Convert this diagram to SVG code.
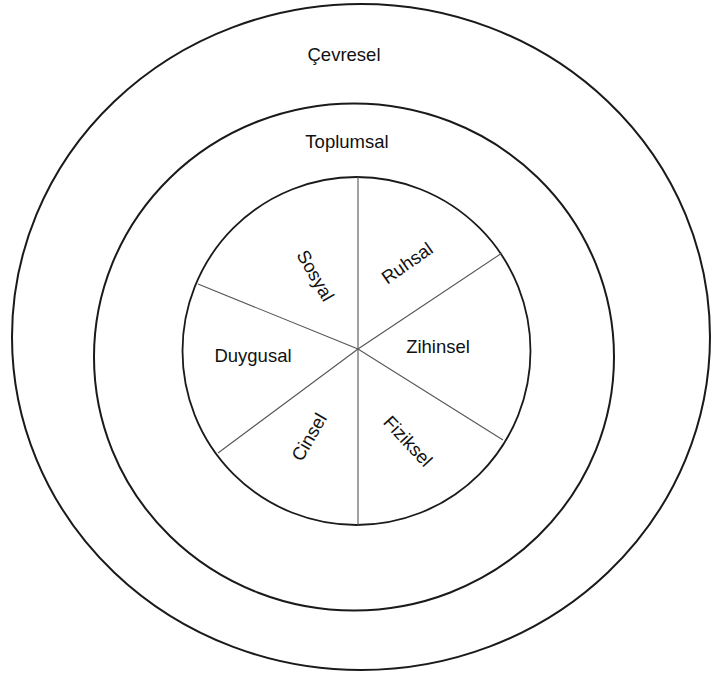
<svg xmlns="http://www.w3.org/2000/svg" width="711" height="673" viewBox="0 0 711 673">
<style>
.ring{fill:none;stroke:#1a1a1a;stroke-width:2}
.inner{fill:none;stroke:#1a1a1a;stroke-width:1.8}
.spoke{stroke:#555;stroke-width:1.1;fill:none}
.lbl{font-family:"Liberation Sans",Arial,sans-serif;font-size:18.5px;fill:#111;text-anchor:middle}
.rl{dominant-baseline:central}
</style>
<rect width="711" height="673" fill="#fff"/>
<g id="cevresel">
<ellipse class="ring" cx="361" cy="337" rx="349" ry="333"/>
<text class="lbl" x="344" y="61">Çevresel</text>
</g>
<g id="toplumsal">
<ellipse class="ring" cx="354" cy="357" rx="260" ry="253.5"/>
<text class="lbl" x="347" y="148">Toplumsal</text>
</g>
<g id="birey">
<circle class="inner" cx="356.5" cy="351" r="174"/>
</g>
<g id="connectors">
<line class="spoke" x1="358" y1="177" x2="358" y2="525"/>
<polyline class="spoke" points="502,253 358,349 218,453"/>
<polyline class="spoke" points="198,284 358,349 503,440"/>
</g>
<g id="sosyal"><text class="lbl rl" transform="translate(315.5,275.5) rotate(60)">Sosyal</text></g>
<g id="ruhsal"><text class="lbl rl" transform="translate(407,263) rotate(-35)">Ruhsal</text></g>
<g id="duygusal"><text class="lbl" x="253" y="362">Duygusal</text></g>
<g id="zihinsel"><text class="lbl" x="438" y="353">Zihinsel</text></g>
<g id="cinsel"><text class="lbl rl" transform="translate(309,437) rotate(-60)">Cinsel</text></g>
<g id="fiziksel"><text class="lbl rl" transform="translate(408,441) rotate(47)">Fiziksel</text></g>
</svg>
